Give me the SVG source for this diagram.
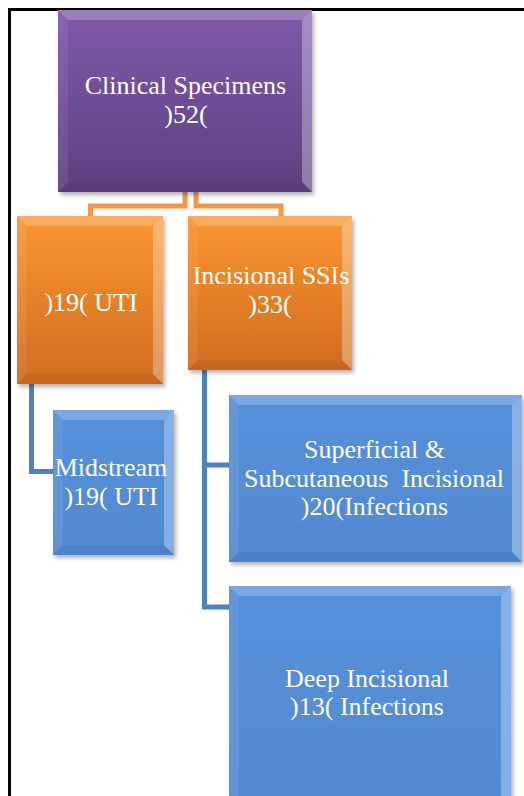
<svg xmlns="http://www.w3.org/2000/svg" width="524" height="796" viewBox="0 0 524 796">
<defs>
<linearGradient id="gPurple" x1="0" y1="0" x2="0" y2="1"><stop offset="0" stop-color="#7E5BAA"/><stop offset="1" stop-color="#5D4180"/></linearGradient>
<linearGradient id="gOrange" x1="0" y1="0" x2="0" y2="1"><stop offset="0" stop-color="#FB9632"/><stop offset="1" stop-color="#D06C20"/></linearGradient>
<linearGradient id="gBlue" x1="0" y1="0" x2="0" y2="1"><stop offset="0" stop-color="#5790DA"/><stop offset="1" stop-color="#518AD2"/></linearGradient>
<filter id="sh" x="-10%" y="-10%" width="120%" height="120%"><feDropShadow dx="2" dy="3" stdDeviation="2" flood-color="#000" flood-opacity="0.3"/></filter>
</defs>
<style>
.frame{fill:none;stroke:#000;stroke-width:3}
.co{fill:none;stroke:#F79646;stroke-width:5}
.cb{fill:none;stroke:#4F81BD;stroke-width:5}
.bt{fill:#fff;opacity:0.22}
.bl{fill:#fff;opacity:0.07}
.br{fill:#fff;opacity:0.3}
.bb{fill:#000;opacity:0.05}
.t{font-size:26px;fill:#fff;text-anchor:middle;white-space:pre}
</style>
<rect width="524" height="796" fill="#fff"/>
<rect class="frame" x="9.5" y="9.5" width="600" height="900"/>
<g id="connectors">
<path class="co" d="M185 192 V206 H90.5 V216"/>
<path class="co" d="M196 192 V206 H281 V216"/>
<path class="cb" d="M31.5 384 V471.5 H53"/>
<path class="cb" d="M204.5 370 V607 H229"/>
<path class="cb" d="M204.5 465 H229"/>
</g>
<g font-family="Liberation Serif, Times New Roman, DejaVu Serif, serif">
<g id="clinical">
<rect x="58" y="10" width="254" height="182" fill="url(#gPurple)" filter="url(#sh)"/>
<polygon class="bt" points="58,10 312,10 302,20 68,20"/>
<polygon class="bl" points="58,10 68,20 68,182 58,192"/>
<polygon class="br" points="312,10 302,20 302,182 312,192"/>
<polygon class="bb" points="58,192 68,182 302,182 312,192"/>
<text class="t" x="185.5" y="94">Clinical Specimens</text>
<text class="t" x="186" y="123">)52(</text>
</g>
<g id="uti">
<rect x="17" y="216" width="146" height="168" fill="url(#gOrange)" filter="url(#sh)"/>
<polygon class="bt" points="17,216 163,216 153,226 27,226"/>
<polygon class="bl" points="17,216 27,226 27,374 17,384"/>
<polygon class="br" points="163,216 153,226 153,374 163,384"/>
<polygon class="bb" points="17,384 27,374 153,374 163,384"/>
<text class="t" x="91" y="311">)19( UTI</text>
</g>
<g id="ssi">
<rect x="188" y="216" width="164" height="154" fill="url(#gOrange)" filter="url(#sh)"/>
<polygon class="bt" points="188,216 352,216 342,226 198,226"/>
<polygon class="bl" points="188,216 198,226 198,360 188,370"/>
<polygon class="br" points="352,216 342,226 342,360 352,370"/>
<polygon class="bb" points="188,370 198,360 342,360 352,370"/>
<text class="t" x="271" y="284">Incisional SSIs</text>
<text class="t" x="270" y="313">)33(</text>
</g>
<g id="midstream">
<rect x="53" y="410" width="121" height="145" fill="url(#gBlue)" filter="url(#sh)"/>
<polygon class="bt" points="53,410 174,410 164,420 63,420"/>
<polygon class="bl" points="53,410 63,420 63,545 53,555"/>
<polygon class="br" points="174,410 164,420 164,545 174,555"/>
<polygon class="bb" points="53,555 63,545 164,545 174,555"/>
<text class="t" x="111" y="476">Midstream</text>
<text class="t" x="111" y="505">)19( UTI</text>
</g>
<g id="superficial">
<rect x="229" y="395" width="293" height="167" fill="url(#gBlue)" filter="url(#sh)"/>
<polygon class="bt" points="229,395 522,395 512,405 239,405"/>
<polygon class="bl" points="229,395 239,405 239,552 229,562"/>
<polygon class="br" points="522,395 512,405 512,552 522,562"/>
<polygon class="bb" points="229,562 239,552 512,552 522,562"/>
<text class="t" x="374.5" y="458">Superficial &amp;</text>
<text class="t" x="374" y="487">Subcutaneous  Incisional</text>
<text class="t" x="374.5" y="515">)20(Infections</text>
</g>
<g id="deep">
<rect x="229" y="586" width="282" height="230" fill="url(#gBlue)" filter="url(#sh)"/>
<polygon class="bt" points="229,586 511,586 501,596 239,596"/>
<polygon class="bl" points="229,586 239,596 239,816 229,816"/>
<polygon class="br" points="511,586 501,596 501,816 511,816"/>
<text class="t" x="367" y="687">Deep Incisional</text>
<text class="t" x="367" y="715">)13( Infections</text>
</g>
</g>
</svg>
